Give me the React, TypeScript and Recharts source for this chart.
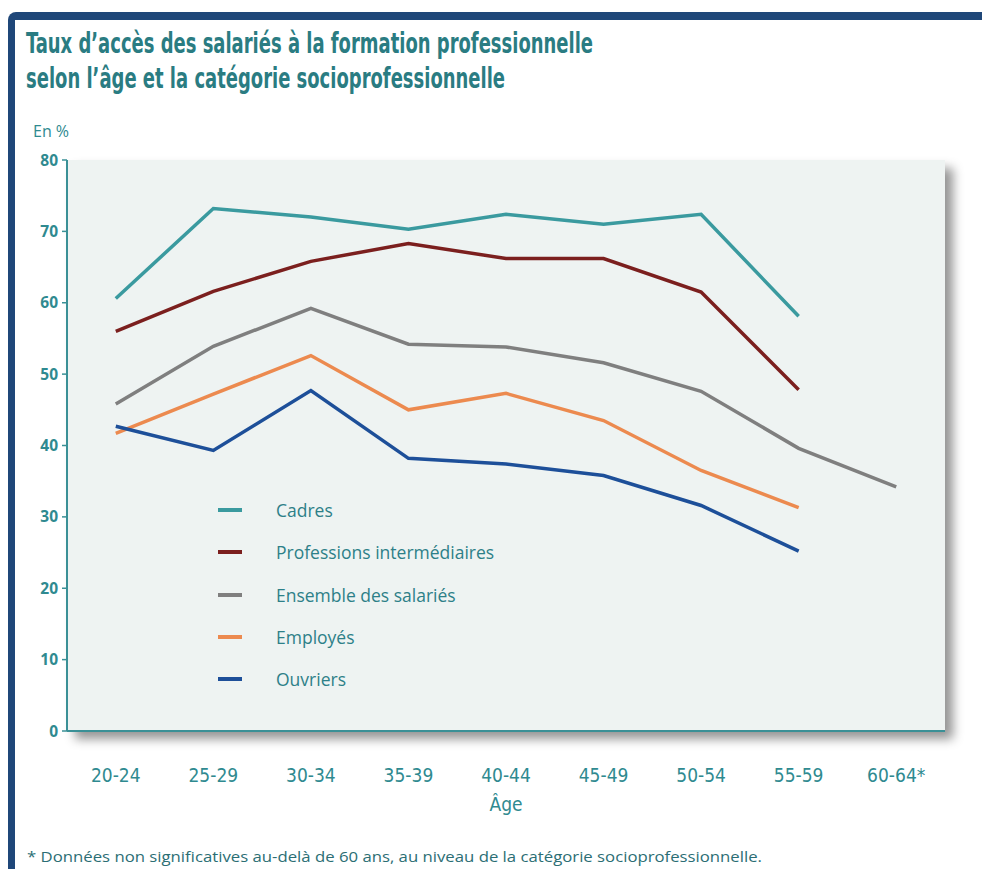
import React from 'react';
import { LineChart, Line, XAxis, YAxis, Legend, Label } from 'recharts';

const ages = ['20-24', '25-29', '30-34', '35-39', '40-44', '45-49', '50-54', '55-59', '60-64*'];
const cadres = [60.6, 73.2, 72.0, 70.3, 72.4, 71.0, 72.4, 58.1];
const profInter = [56.0, 61.6, 65.8, 68.3, 66.2, 66.2, 61.5, 47.8];
const ensemble = [45.8, 53.9, 59.2, 54.2, 53.8, 51.6, 47.6, 39.6, 34.2];
const employes = [41.7, 47.2, 52.6, 45.0, 47.3, 43.5, 36.5, 31.3];
const ouvriers = [42.7, 39.3, 47.7, 38.2, 37.4, 35.8, 31.6, 25.2];
const yTicks = [0, 10, 20, 30, 40, 50, 60, 70, 80];

const seriesDefs = [
  { key: 'cadres', name: 'Cadres', color: '#3a9a9f', values: cadres },
  { key: 'profInter', name: 'Professions intermédiaires', color: '#7b1f1e', values: profInter },
  { key: 'ensemble', name: 'Ensemble des salariés', color: '#7f7f7f', values: ensemble },
  { key: 'employes', name: 'Employés', color: '#ec8a4f', values: employes },
  { key: 'ouvriers', name: 'Ouvriers', color: '#1d4f99', values: ouvriers },
];

const data = ages.map((age, i) => {
  const row: any = { i, age };
  seriesDefs.forEach((s) => {
    row[s.key] = s.values[i] === undefined ? null : s.values[i];
  });
  return row;
});

const TEAL = '#2f8a90';
const AXIS = '#3a9096';
const W = 982;
const H = 869;
const M = { top: 160, right: 37, bottom: 48, left: 0 };
const Y_W = 67;
const GRID_H = 10;
const LABEL_H = 80;
const plotLeft = M.left + Y_W;
const plotTop = M.top;
const plotW = W - M.right - plotLeft;
const plotH = H - M.bottom - GRID_H - LABEL_H - plotTop;

const boundaryTicks = ages.map((_, i) => i - 0.5).concat([ages.length - 0.5]);
const centerTicks = ages.map((_, i) => i);

const XTick = (props: any) => {
  const { x, y, payload } = props;
  return (
    <text
      x={x}
      y={y}
      dy={41}
      textAnchor="middle"
      fill={TEAL}
      fontSize={19}
      fontFamily="'DejaVu Sans Condensed', 'Liberation Sans Narrow', sans-serif"
    >
      {ages[payload.value]}
    </text>
  );
};

const LegendContent = () => {
  return (
    <div style={{ display: 'flex', flexDirection: 'column' }}>
      {seriesDefs.map((s) => (
        <div key={s.key} style={{ display: 'flex', alignItems: 'center', height: 42.3 }}>
          <div style={{ width: 24, height: 4, background: s.color, marginRight: 34 }} />
          <span
            style={{
              color: '#2d8088',
              fontFamily: "'Open Sans', 'Noto Sans', sans-serif",
              fontSize: 17.5,
              whiteSpace: 'nowrap',
            }}
          >
            {s.name}
          </span>
        </div>
      ))}
    </div>
  );
};

export default function App() {
  return (
    <div
      style={{
        position: 'absolute',
        left: 0,
        top: 0,
        width: W,
        height: H,
        background: '#ffffff',
        overflow: 'hidden',
      }}
    >
      <div
        style={{
          position: 'absolute',
          left: 8,
          top: 12,
          width: 1000,
          height: 900,
          borderLeft: '7px solid #1f4779',
          borderTop: '8px solid #1f4779',
          borderTopLeftRadius: 8,
        }}
      />
      <svg
        width={W}
        height={150}
        style={{ position: 'absolute', left: 0, top: 0 }}
      >
        <text
          x={26}
          y={53}
          textLength={567}
          lengthAdjust="spacingAndGlyphs"
          fill="#2a7c82"
          fontSize={28}
          fontWeight="bold"
          fontFamily="'Liberation Sans Narrow', 'DejaVu Sans Condensed', sans-serif"
        >
          Taux d’accès des salariés à la formation professionnelle
        </text>
        <text
          x={26}
          y={88}
          textLength={479}
          lengthAdjust="spacingAndGlyphs"
          fill="#2a7c82"
          fontSize={28}
          fontWeight="bold"
          fontFamily="'Liberation Sans Narrow', 'DejaVu Sans Condensed', sans-serif"
        >
          selon l’âge et la catégorie socioprofessionnelle
        </text>
        <text
          x={33}
          y={137}
          fill={TEAL}
          fontSize={16}
          fontFamily="'Open Sans', 'Noto Sans', sans-serif"
        >
          En %
        </text>
      </svg>
      <div
        style={{
          position: 'absolute',
          left: plotLeft,
          top: plotTop,
          width: plotW,
          height: plotH,
          background: '#eef3f2',
          boxShadow: '8px 8px 10px rgba(0,0,0,0.42)',
        }}
      />
      <div style={{ position: 'absolute', left: 0, top: 0 }}>
        <LineChart width={W} height={H} data={data} margin={M}>
          <YAxis
            width={Y_W}
            domain={[0, 80]}
            ticks={yTicks}
            interval={0}
            tickSize={5}
            tickMargin={4}
            axisLine={{ stroke: AXIS, strokeWidth: 2 }}
            tickLine={{ stroke: AXIS, strokeWidth: 1.5 }}
            tick={{
              fill: TEAL,
              fontSize: 15.5,
              fontWeight: 700,
              fontFamily: "'Open Sans', 'Noto Sans', sans-serif",
            }}
          />
          <XAxis
            xAxisId="g"
            dataKey="i"
            type="number"
            domain={[-0.5, ages.length - 0.5]}
            ticks={boundaryTicks}
            interval={0}
            height={GRID_H}
            tickSize={6}
            tick={false}
            axisLine={{ stroke: AXIS, strokeWidth: 2 }}
            tickLine={{ stroke: AXIS, strokeWidth: 1.5 }}
          />
          <XAxis
            xAxisId="l"
            dataKey="i"
            type="number"
            domain={[-0.5, ages.length - 0.5]}
            ticks={centerTicks}
            interval={0}
            height={LABEL_H}
            tickSize={0}
            tickMargin={0}
            axisLine={false}
            tickLine={false}
            tick={<XTick />}
          >
            <Label
              value="Âge"
              position="insideTop"
              offset={57}
              fill={TEAL}
              fontSize={19}
              fontFamily="'DejaVu Sans Condensed', 'Liberation Sans Narrow', sans-serif"
            />
          </XAxis>
          <Legend
            layout="horizontal"
            verticalAlign="middle"
            align="center"
            content={<LegendContent />}
            wrapperStyle={{ position: 'absolute', left: 218, top: 489, width: 360 }}
          />
          {seriesDefs.map((s) => (
            <Line
              key={s.key}
              xAxisId="l"
              dataKey={s.key}
              name={s.name}
              stroke={s.color}
              strokeWidth={3.5}
              dot={false}
              activeDot={false}
              isAnimationActive={false}
              connectNulls={false}
            />
          ))}
        </LineChart>
      </div>
      <svg
        width={W}
        height={40}
        style={{ position: 'absolute', left: 0, top: 835 }}
      >
        <text
          x={27}
          y={27}
          textLength={735}
          lengthAdjust="spacingAndGlyphs"
          fill="#2b6e74"
          fontSize={14}
          fontFamily="'Open Sans', 'Noto Sans', sans-serif"
        >
          * Données non significatives au-delà de 60 ans, au niveau de la catégorie socioprofessionnelle.
        </text>
      </svg>
    </div>
  );
}
